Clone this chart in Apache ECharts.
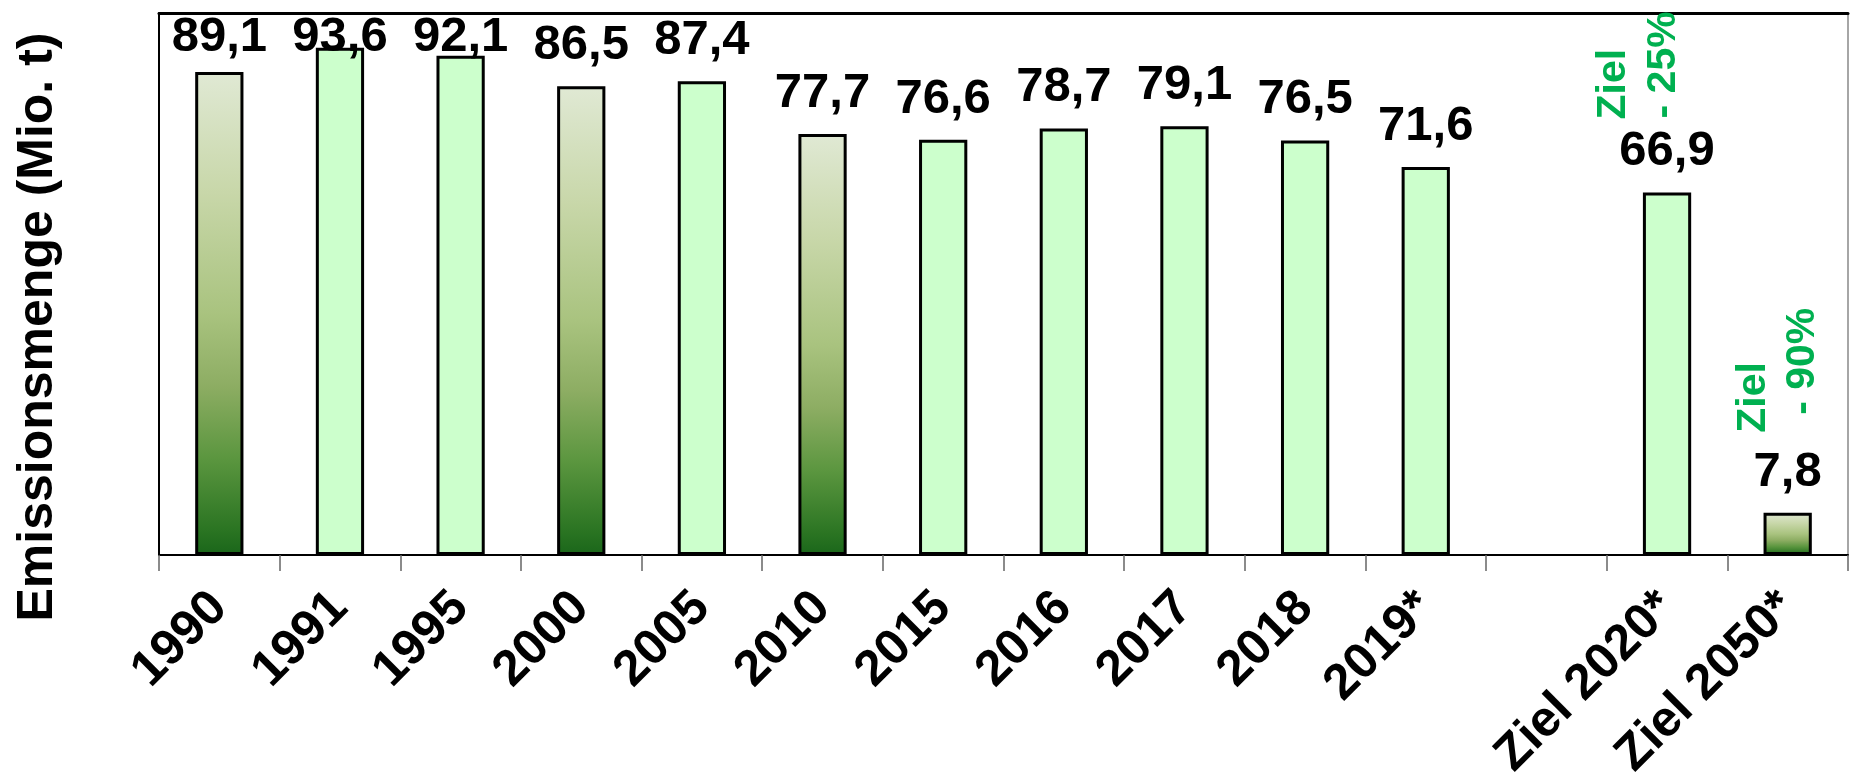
<!DOCTYPE html>
<html>
<head>
<meta charset="utf-8">
<script src="https://cdn.jsdelivr.net/npm/echarts@6/dist/echarts.min.js"></script>
<style>
  html, body { margin: 0; padding: 0; background: #ffffff; }
  #chart { width: 1850px; height: 783px; }
</style>
</head>
<body>
<div id="chart"></div>
<script>
// Emissions per year and the targets for 2020 and 2050 (Mio. t)
const categories = ['1990', '1991', '1995', '2000', '2005', '2010', '2015', '2016', '2017', '2018', '2019*', '', 'Ziel 2020*', 'Ziel 2050*'];
const emissions = [89.1, 93.6, 92.1, 86.5, 87.4, 77.7, 76.6, 78.7, 79.1, 76.5, 71.6, null, 66.9, 7.8];
const shadedCategories = ['1990', '2000', '2010', 'Ziel 2050*'];
const targetNotes = [
  { category: 'Ziel 2020*', lines: ['Ziel', '- 25%'] },
  { category: 'Ziel 2050*', lines: ['Ziel', '- 90%'] }
];
const axisTitle = 'Emissionsmenge (Mio. t)';

// layout
const FONT = '"Liberation Sans", Arial, Helvetica, sans-serif';
const GRID = { left: 159, right: 2, top: 13, bottom: 227 };
const LABEL_SIZE = 49;
const LABEL_DISTANCE = 16;
// pixel offsets of each note line from the bar top centre
const noteLineOffsets = {
  'Ziel 2020*': [[-53, -73], [-3, -74]],
  'Ziel 2050*': [[-34, -80], [15, -98]]
};

const lightFill = '#ccffcc';
const shadedFill = {
  type: 'linear', x: 0, y: 0, x2: 0, y2: 1,
  colorStops: [
    { offset: 0, color: '#e0e9d4' },
    { offset: 0.25, color: '#c8d7a9' },
    { offset: 0.5, color: '#a9c37f' },
    { offset: 0.65, color: '#8dad63' },
    { offset: 0.8, color: '#5b963f' },
    { offset: 0.95, color: '#2a7422' },
    { offset: 1, color: '#1a661a' }
  ]
};

function buildBarData(labelDistances) {
  return emissions.map((v, i) => {
    if (v == null) return '-';
    const item = {
      value: v,
      itemStyle: { color: shadedCategories.includes(categories[i]) ? shadedFill : lightFill }
    };
    if (labelDistances && labelDistances[i] != null) {
      item.label = { distance: labelDistances[i] };
    }
    return item;
  });
}

const chart = echarts.init(document.getElementById('chart'), null, { renderer: 'canvas' });

chart.setOption({
  animation: false,
  backgroundColor: '#ffffff',
  grid: { left: GRID.left, right: GRID.right, top: GRID.top, bottom: GRID.bottom, containLabel: false },
  xAxis: [
    {
      type: 'category',
      data: categories,
      position: 'bottom',
      axisLine: { show: true, onZero: false, lineStyle: { color: '#000000', width: 2 } },
      axisTick: { show: true, length: 16, lineStyle: { color: '#666666', width: 1.5 } },
      axisLabel: {
        interval: 0,
        rotate: 45,
        margin: 45,
        color: '#000000',
        fontFamily: FONT,
        fontWeight: 'bold',
        fontSize: 50
      },
      splitLine: { show: false }
    },
    {
      type: 'category',
      data: categories,
      position: 'top',
      axisLine: { show: true, onZero: false, lineStyle: { color: '#000000', width: 3 } },
      axisTick: { show: false },
      axisLabel: { show: false },
      splitLine: { show: false }
    }
  ],
  yAxis: [
    {
      type: 'value',
      min: 0,
      max: 100,
      position: 'left',
      axisLine: { show: true, onZero: false, lineStyle: { color: '#000000', width: 2 } },
      axisTick: { show: false },
      axisLabel: { show: false },
      splitLine: { show: false },
      name: axisTitle,
      nameLocation: 'middle',
      nameRotate: 90,
      nameGap: 96,
      nameTextStyle: {
        color: '#000000',
        fontFamily: FONT,
        fontWeight: 'bold',
        fontSize: 50,
        padding: [0, 86, 0, 0]
      }
    },
    {
      type: 'value',
      min: 0,
      max: 100,
      position: 'right',
      axisLine: { show: true, onZero: false, lineStyle: { color: '#888888', width: 1.5 } },
      axisTick: { show: false },
      axisLabel: { show: false },
      splitLine: { show: false }
    }
  ],
  series: [
    {
      id: 'emissions',
      type: 'bar',
      xAxisIndex: 0,
      yAxisIndex: 0,
      data: buildBarData(null),
      barWidth: '40%',
      itemStyle: { borderColor: '#000000', borderWidth: 3 },
      label: {
        show: true,
        position: 'top',
        distance: LABEL_DISTANCE,
        color: '#000000',
        fontFamily: FONT,
        fontWeight: 'bold',
        fontSize: LABEL_SIZE,
        lineHeight: LABEL_SIZE,
        formatter: p => p.value.toFixed(1).replace('.', ',')
      },
      z: 2
    }
  ]
});

// keep value labels inside the plot frame: pull down those that would cross the top edge
const labelDistances = emissions.map((v, i) => {
  if (v == null) return null;
  const barTop = chart.convertToPixel({ gridIndex: 0 }, [i, v])[1];
  const boxTop = barTop - LABEL_DISTANCE - LABEL_SIZE;
  return boxTop < GRID.top ? barTop - GRID.top - LABEL_SIZE : null;
});

// target notes, rotated and placed relative to their bars
const noteGraphics = [];
targetNotes.forEach(note => {
  const idx = categories.indexOf(note.category);
  const [bx, by] = chart.convertToPixel({ gridIndex: 0 }, [idx, emissions[idx]]);
  note.lines.forEach((line, li) => {
    const off = noteLineOffsets[note.category][li];
    noteGraphics.push({
      type: 'text',
      x: bx + off[0],
      y: by + off[1],
      rotation: Math.PI / 2,
      z: 10,
      style: {
        text: line,
        fill: '#00b050',
        font: 'bold 41px ' + FONT,
        align: 'left',
        verticalAlign: 'middle'
      }
    });
  });
});

chart.setOption({
  series: [{ id: 'emissions', data: buildBarData(labelDistances) }],
  graphic: noteGraphics
});
</script>
</body>
</html>
